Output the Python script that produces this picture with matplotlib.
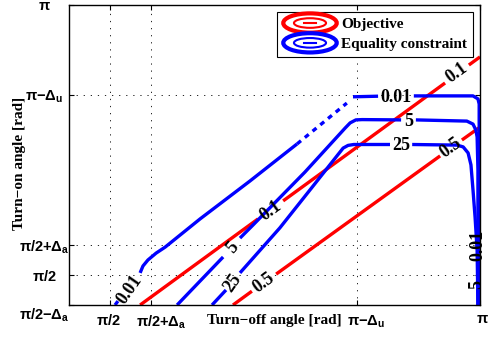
import numpy as np
import matplotlib
matplotlib.use('Agg')
import matplotlib.pyplot as plt
from matplotlib.patches import Ellipse
from matplotlib.lines import Line2D
from matplotlib.legend_handler import HandlerBase
from matplotlib.transforms import ScaledTranslation

plt.rcParams['font.family'] = ['Liberation Serif', 'DejaVu Serif']
plt.rcParams['mathtext.fontset'] = 'custom'
plt.rcParams['mathtext.rm'] = 'Liberation Sans:bold'
plt.rcParams['mathtext.it'] = 'Liberation Sans:bold'
plt.rcParams['mathtext.bf'] = 'Liberation Sans:bold'
plt.rcParams['mathtext.default'] = 'rm'

NAN = np.nan
# ---- data (angles in degrees) ----
# Objective contours (red)
obj_01_x = [97.3, 126.0, NAN, 132.1, 171.5, NAN, 177.3, 180.0]
obj_01_y = [80.0, 108.7, NAN, 114.7, 154.0, NAN, 160.0, 162.7]
obj_05_x = [119.9, 124.5, NAN, 130.4, 170.3, NAN, 175.6, 180.0]
obj_05_y = [80.0, 84.6, NAN, 90.3, 129.7, NAN, 135.0, 139.3]

# Equality constraint contours (blue)
eq_001_x = [91.2, 91.9, NAN, 97.3, 98.0, 99.2, 101.2, 103.4, 111.9, 124.0, 135.5]
eq_001_y = [80.0, 81.3, NAN, 90.7, 93.0, 95.0, 97.3, 99.3, 108.7, 121.3, 133.7]
eq_001_dash_x = [135.5, 147.6]
eq_001_dash_y = [133.7, 147.3]
eq_001_top_x = [149.1, 155.2, NAN, 163.9, 178.3, 179.5, 179.8, 179.8]
eq_001_top_y = [149.4, 149.6, NAN, 149.7, 149.7, 148.7, 147.0, 80.0]

eq_5_x = [106.3, 117.5, NAN, 121.6, 124.8, 137.4, 147.2, 148.4, 149.8, 151.3, 160.8,
          NAN, 164.4, 176.8, 178.3, 179.0, 179.3, 179.5, 179.5]
eq_5_y = [80.0, 96.0, NAN, 102.3, 106.7, 124.3, 139.0, 140.7, 141.7, 141.8, 141.7,
          NAN, 141.7, 141.3, 140.3, 138.3, 136.0, 125.0, 80.0]

eq_25_x = [114.8, 118.2, NAN, 121.6, 131.3, 138.6, 146.7, 147.9, 149.3, 158.1,
           NAN, 163.5, 174.4, 175.9, 177.1, 177.8, 178.3, 178.8, 179.3, 179.5]
eq_25_y = [80.0, 85.0, NAN, 90.7, 105.7, 118.3, 132.3, 133.2, 133.5, 133.5,
           NAN, 133.5, 133.3, 132.7, 130.7, 126.7, 118.3, 109.3, 98.3, 80.0]

# contour labels: text, x, y (degrees), rotation
label_text = ['0.1', '0.1', '0.5', '0.5', '0.01', '0.01', '5', '5', '25', '25', '0.01', '5']
label_x = [129.1, 174.4, 127.4, 172.9, 94.8, 159.6, 119.7, 162.6, 119.9, 160.9, 179.5, 179.3]
label_y = [111.3, 157.3, 87.3, 132.3, 85.0, 149.2, 99.0, 141.2, 87.3, 133.0, 100.0, 86.7]
label_rot = [36, 36, 36, 36, 55, 0, 50, 0, 55, 0, 90, 90]

legend_labels = ['Objective', 'Equality constraint']

delta_a = np.pi / 18
delta_u = np.pi / 6
xtick_vals = [np.pi / 2, np.pi / 2 + delta_a, np.pi - delta_u, np.pi]
xtick_labels = [r'$\pi/2$', r'$\pi/2{+}\Delta_a$', r'$\pi{-}\Delta_u$', r'$\pi$']
ytick_vals = [np.pi / 2 - delta_a, np.pi / 2, np.pi / 2 + delta_a, np.pi - delta_u, np.pi]
ytick_labels = [r'$\pi/2{-}\Delta_a$', r'$\pi/2$', r'$\pi/2{+}\Delta_a$', r'$\pi{-}\Delta_u$', r'$\pi$']


class HandlerContour(HandlerBase):
    def create_artists(self, legend, orig_handle, xdescent, ydescent,
                       width, height, fontsize, trans):
        c = orig_handle.get_color()
        cx = width / 2 - xdescent
        cy = height / 2 - ydescent
        outer = Ellipse((cx, cy), width, height * 1.8, fill=False, ec=c, lw=3.0)
        inner = Ellipse((cx, cy), width * 0.6, height * 0.9, fill=False, ec=c, lw=1.5)
        dash = Line2D([cx - width * 0.12, cx + width * 0.12], [cy, cy], color=c, lw=1.5)
        for a in (outer, inner, dash):
            a.set_transform(trans)
        return [outer, inner, dash]


fig = plt.figure(figsize=(4.92, 3.39), dpi=100)
ax = fig.add_axes([69 / 492, 34 / 339, 411 / 492, 300 / 339])

r = np.radians
lw = 2.4
ax.plot(r(obj_01_x), r(obj_01_y), color='red', lw=lw, solid_capstyle='butt')
ax.plot(r(obj_05_x), r(obj_05_y), color='red', lw=lw, solid_capstyle='butt')
ax.plot(r(eq_001_x), r(eq_001_y), color='blue', lw=lw, solid_capstyle='butt')
ax.plot(r(eq_001_dash_x), r(eq_001_dash_y), color='blue', lw=lw, linestyle=(0, (1.5, 1.5)))
ax.plot(r(eq_001_top_x), r(eq_001_top_y), color='blue', lw=lw, solid_capstyle='butt')
ax.plot(r(eq_5_x), r(eq_5_y), color='blue', lw=lw, solid_capstyle='butt')
ax.plot(r(eq_25_x), r(eq_25_y), color='blue', lw=lw, solid_capstyle='butt')

for t, x, y, rot in zip(label_text, label_x, label_y, label_rot):
    ax.text(r(x), r(y), t, rotation=rot, rotation_mode='anchor', ha='center', va='center',
            fontsize=13, fontweight='bold', color='black', zorder=5)

lo = np.pi / 2 - delta_a
ax.set_xlim(lo, np.pi)
ax.set_ylim(lo, np.pi)

ax.set_xticks(xtick_vals)
ax.set_xticklabels(xtick_labels)
ax.set_yticks(ytick_vals)
ax.set_yticklabels(ytick_labels)
ax.tick_params(direction='in', length=3.5, width=0.8, top=True, right=True, labelsize=10.5)
ax.tick_params(axis='x', pad=6)
ax.tick_params(axis='y', pad=18)
for lab in ax.get_yticklabels():
    lab.set_horizontalalignment('center')

xoffs = [-2, 10, 9, 2]
for lab, dx in zip(ax.get_xticklabels(), xoffs):
    lab.set_transform(lab.get_transform() + ScaledTranslation(dx / 100, 0, fig.dpi_scale_trans))
yoffs = [-8, 0, 0, 0, 0]
for lab, dy in zip(ax.get_yticklabels(), yoffs):
    lab.set_transform(lab.get_transform() + ScaledTranslation(0, dy / 100, fig.dpi_scale_trans))

ax.grid(True, color='black', linestyle=(0, (1.5, 7)), linewidth=0.6)
for s in ax.spines.values():
    s.set_linewidth(1.0)

ax.set_xlabel('Turn\u2212off angle [rad]', fontsize=11, fontweight='bold')
ax.xaxis.set_label_coords(0.5, -0.03)
ax.set_ylabel('Turn\u2212on angle [rad]', fontsize=11, fontweight='bold')
ax.yaxis.set_label_coords(-0.105, 0.473)

handles = [Line2D([], [], color='red'), Line2D([], [], color='blue')]
leg = ax.legend(handles, legend_labels, loc='upper right',
                handler_map={Line2D: HandlerContour()},
                prop={'family': 'Liberation Serif', 'weight': 'bold', 'size': 11},
                fancybox=False, framealpha=1, edgecolor='black',
                borderpad=0.38, labelspacing=0.4, handlelength=3.5, handletextpad=0.3,
                borderaxespad=0.45)
leg.get_frame().set_linewidth(0.8)
leg.set_zorder(10)

fig.savefig('out.png', dpi=100, facecolor='white')
